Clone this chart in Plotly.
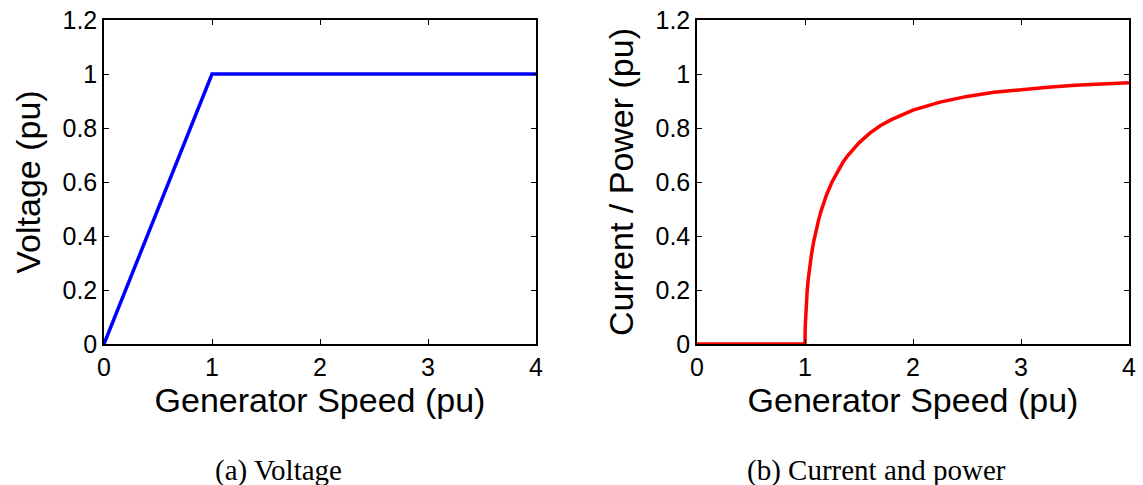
import plotly.graph_objects as go

# Panel (a): voltage vs generator speed
speed_v = [0.0, 1.0, 4.0]
voltage = [0.0, 1.0, 1.0]

# Panel (b): current / power vs generator speed
speed_c = [0.0, 1.0, 1.002, 1.005, 1.01, 1.02, 1.03, 1.04, 1.06, 1.08, 1.1, 1.125, 1.15, 1.2, 1.25,
           1.3, 1.35, 1.4, 1.5, 1.6, 1.7, 1.8, 1.9, 2.0, 2.25, 2.5, 2.75, 3.0, 3.25, 3.5, 3.75, 4.0]
current = [0.0, 0.0, 0.063, 0.10, 0.14, 0.197, 0.240, 0.275, 0.332, 0.378, 0.417, 0.458, 0.494,
           0.553, 0.600, 0.639, 0.672, 0.700, 0.745, 0.781, 0.809, 0.831, 0.850, 0.866, 0.896,
           0.917, 0.932, 0.943, 0.951, 0.958, 0.964, 0.968]

x_ticks = [0, 1, 2, 3, 4]
y_ticks = [0, 0.2, 0.4, 0.6, 0.8, 1, 1.2]
y_tick_text = ["0", "0.2", "0.4", "0.6", "0.8", "1", "1.2"]

x_title = "Generator Speed (pu)"
y_title_a = "Voltage (pu)"
y_title_b = "Current / Power (pu)"
caption_a = "(a) Voltage"
caption_b = "(b) Current and power"

W, H = 1143, 485
fig = go.Figure()
fig.add_trace(go.Scatter(x=speed_v, y=voltage, mode="lines",
                         line=dict(color="#0000ff", width=3.5), xaxis="x", yaxis="y",
                         showlegend=False, cliponaxis=False))
fig.add_trace(go.Scatter(x=speed_c, y=current, mode="lines",
                         line=dict(color="#ff0000", width=3.5),
                         xaxis="x2", yaxis="y2", showlegend=False, cliponaxis=False))

font_main = "Liberation Sans, Arial, sans-serif"
tick_font = dict(family=font_main, size=25, color="black")
title_font = dict(family=font_main, size=34, color="black")

def xaxis(domain, anchor):
    return dict(domain=domain, anchor=anchor, range=[0, 4], tickvals=x_ticks,
                ticks="inside", ticklen=5, tickcolor="black", tickwidth=1,
                showline=True, linecolor="black", linewidth=1.5, mirror="allticks",
                showgrid=False, zeroline=False, tickfont=tick_font, automargin=False,
                ticklabeloverflow="allow",
                title=dict(text=x_title, font=title_font, standoff=3))

def yaxis(anchor, title):
    return dict(domain=[1 - 344 / H, 1 - 20 / H], anchor=anchor, range=[0, 1.2],
                tickvals=y_ticks, ticktext=y_tick_text,
                ticks="inside", ticklen=5, tickcolor="black", tickwidth=1,
                showline=True, linecolor="black", linewidth=1.5, mirror="allticks",
                showgrid=False, zeroline=False, tickfont=tick_font, automargin=False,
                ticklabeloverflow="allow",
                title=dict(text=title, font=title_font, standoff=12))

cap_font = dict(family="Liberation Serif, serif", size=29, color="black")
fig.update_layout(
    width=W, height=H,
    margin=dict(l=0, r=0, t=0, b=0),
    paper_bgcolor="white", plot_bgcolor="white",
    xaxis=xaxis([104 / W, 536 / W], "y"),
    yaxis=yaxis("x", y_title_a),
    xaxis2=xaxis([697 / W, 1129 / W], "y2"),
    yaxis2=yaxis("x2", y_title_b),
    annotations=[
        dict(text=caption_a, x=278 / W, y=1 - 470 / H, xref="paper", yref="paper",
             xanchor="center", yanchor="middle", showarrow=False, font=cap_font),
        dict(text=caption_b, x=876 / W, y=1 - 470 / H, xref="paper", yref="paper",
             xanchor="center", yanchor="middle", showarrow=False, font=cap_font),
    ],
)

fig.write_html("out.html", config={"displayModeBar": False},
               post_script="document.body.style.margin='0';")
